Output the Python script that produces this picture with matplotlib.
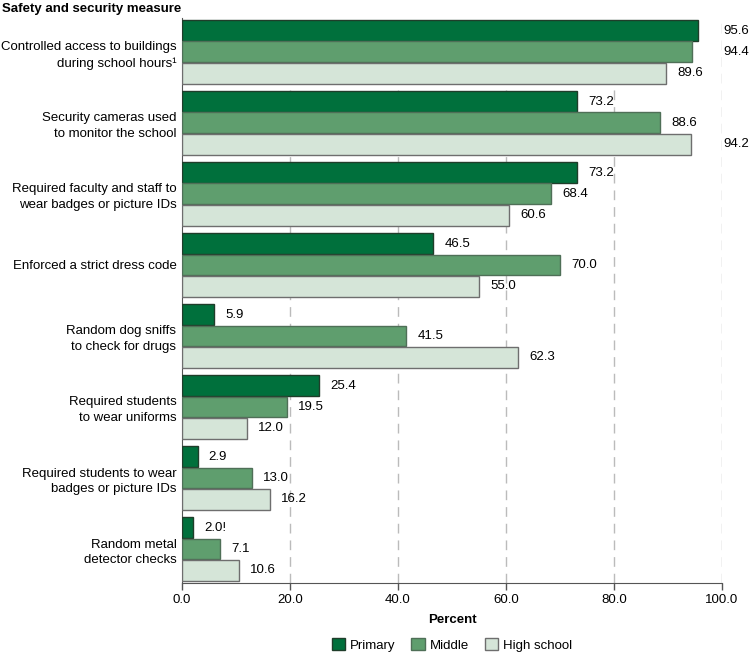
import numpy as np
import matplotlib
matplotlib.use("Agg")
import matplotlib.pyplot as plt

plt.rcParams["font.family"] = ["Liberation Sans", "DejaVu Sans"]

# data
measures = [
    "Controlled access to buildings\nduring school hours\u00b9",
    "Security cameras used\nto monitor the school",
    "Required faculty and staff to\nwear badges or picture IDs",
    "Enforced a strict dress code",
    "Random dog sniffs\nto check for drugs",
    "Required students\nto wear uniforms",
    "Required students to wear\nbadges or picture IDs",
    "Random metal\ndetector checks",
]
levels = ["Primary", "Middle", "High school"]
primary = [95.6, 73.2, 73.2, 46.5, 5.9, 25.4, 2.9, 2.0]
middle = [94.4, 88.6, 68.4, 70.0, 41.5, 19.5, 13.0, 7.1]
high = [89.6, 94.2, 60.6, 55.0, 62.3, 12.0, 16.2, 10.6]
primary_labels = ["95.6", "73.2", "73.2", "46.5", "5.9", "25.4", "2.9", "2.0!"]
xticks = [0, 20, 40, 60, 80, 100]

colors = ["#00703c", "#5f9e6e", "#d5e5d8"]
edges = ["#1f3d2a", "#4f6f57", "#6e6e6e"]

fig = plt.figure(figsize=(7.5, 6.55), dpi=100)
ax = fig.add_axes([0.2427, 0.110, 0.72, 0.8625])

y = np.arange(len(measures))
h = 0.295
offs = [-0.3, 0.0, 0.3]
series = [primary, middle, high]

for k, (vals, off) in enumerate(zip(series, offs)):
    ax.barh(y + off, vals, height=h, color=colors[k], edgecolor=edges[k],
            linewidth=1.0, label=levels[k], zorder=3)
    for i, v in enumerate(vals):
        txt = primary_labels[i] if k == 0 else f"{v:.1f}"
        if v > 92:
            ax.annotate(txt, (100, y[i] + off), xytext=(1.2, 0), textcoords="offset points",
                        va="center", ha="left", fontsize=9.5)
        else:
            ax.annotate(txt, (v, y[i] + off), xytext=(8, 0), textcoords="offset points",
                        va="center", ha="left", fontsize=9.5)

ax.set_ylim(7.478, -0.478)
ax.set_xlim(0, 100)
ax.set_xticks(xticks)
ax.set_xticklabels([f"{t:.1f}" for t in xticks], fontsize=9.5)
ax.set_yticks(y)
ax.set_yticklabels(measures, fontsize=9.5, linespacing=1.4)
ax.tick_params(axis="y", length=0, pad=4)
ax.tick_params(axis="x", length=5, width=1, color="#555555", pad=3)

for t in xticks[1:]:
    ax.axvline(t, color="#bbbbbb", lw=1, ls=(0, (7, 5)), zorder=1)

for s in ["top", "right"]:
    ax.spines[s].set_visible(False)
ax.spines["left"].set_color("#555555")
ax.spines["bottom"].set_color("#555555")

ax.set_xlabel("Percent", fontsize=9.5, fontweight="bold", labelpad=6)
fig.text(0.003, 0.987, "Safety and security measure", fontsize=9.5,
         fontweight="bold", va="center", ha="left")

ax.legend(loc="center", bbox_to_anchor=(0.5, -0.11), ncol=3, frameon=False,
          fontsize=9.5, handlelength=1.0, handleheight=1.0, handletextpad=0.4,
          columnspacing=1.2)

fig.savefig("out.png", dpi=100)
